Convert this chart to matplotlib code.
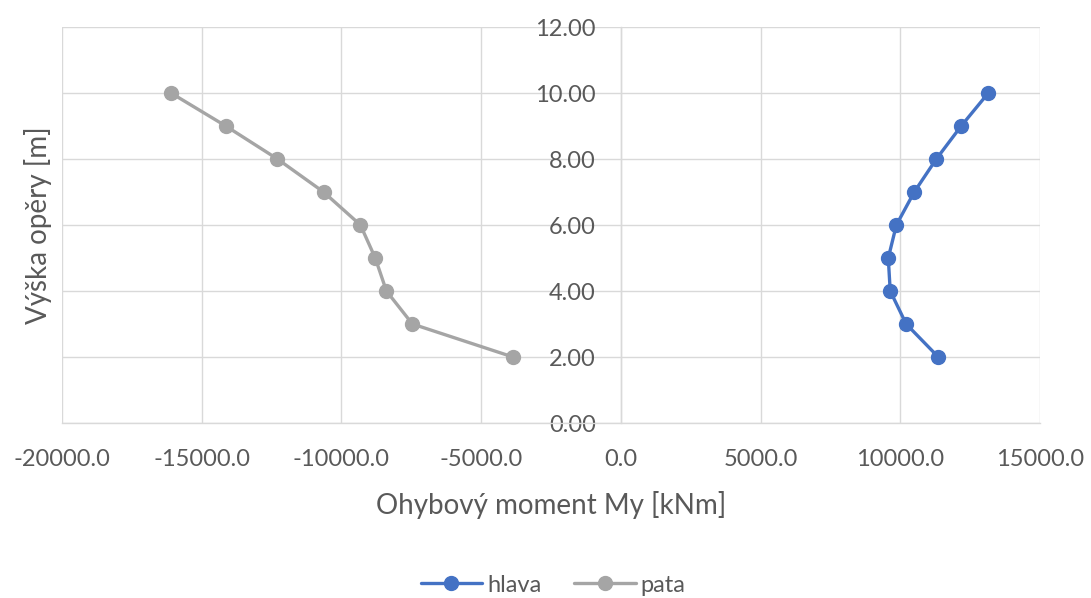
import matplotlib
matplotlib.use("Agg")
import matplotlib.pyplot as plt
from matplotlib.ticker import FormatStrFormatter, MultipleLocator

# Height along the abutment [m]
heights = [10, 9, 8, 7, 6, 5, 4, 3, 2]
# Bending moment My [kNm]
hlava = [13150, 12180, 11290, 10500, 9860, 9570, 9640, 10210, 11360]
pata = [-16100, -14140, -12290, -10640, -9320, -8790, -8390, -7460, -3860]

series_names = ["hlava", "pata"]
series_colors = ["#4472C4", "#A5A5A5"]

plt.rcParams["font.family"] = ["Lato", "DejaVu Sans"]
text_color = "#595959"
grid_color = "#D9D9D9"

fig = plt.figure(figsize=(10.91, 5.98), dpi=100)
ax = fig.add_axes([62 / 1091, 1 - 423 / 598, (1040 - 62) / 1091, (423 - 27) / 598])

for vals, name, col in zip([hlava, pata], series_names, series_colors):
    ax.plot(vals, heights, color=col, lw=2.4, marker="o", markersize=10,
            label=name, solid_capstyle="round", zorder=3)

ax.set_xlim(-20000, 15000)
ax.set_ylim(0, 12)
ax.xaxis.set_major_locator(MultipleLocator(5000))
ax.yaxis.set_major_locator(MultipleLocator(2))
ax.xaxis.set_major_formatter(FormatStrFormatter("%.1f"))
ax.yaxis.set_major_formatter(FormatStrFormatter("%.2f"))

ax.grid(True, color=grid_color, lw=1.0, zorder=0)
ax.set_axisbelow(True)

for side in ["top", "right"]:
    ax.spines[side].set_visible(False)
ax.spines["left"].set_position(("data", 0))
ax.spines["left"].set_color(grid_color)
ax.spines["bottom"].set_color(grid_color)
ax.spines["left"].set_linewidth(1.0)
ax.spines["bottom"].set_linewidth(1.0)

ax.tick_params(axis="y", length=0, pad=18, labelsize=17, labelcolor=text_color)
ax.tick_params(axis="x", length=0, pad=19, labelsize=17, labelcolor=text_color)

fig.text(551 / 1091, 1 - 505 / 598, "Ohybový moment My [kNm]", ha="center", va="center",
         fontsize=20, color=text_color)
fig.text(38 / 1091, 1 - 225 / 598, "Výška opěry [m]", ha="center", va="center",
         rotation=90, fontsize=20, color=text_color)

leg = fig.legend(loc="center", bbox_to_anchor=(553 / 1091, 1 - 585 / 598), ncol=2,
                 frameon=False, fontsize=17, handlelength=2.6, columnspacing=1.4,
                 handletextpad=0.2)
for t in leg.get_texts():
    t.set_color(text_color)

fig.savefig("out.png", dpi=100, facecolor="white")
